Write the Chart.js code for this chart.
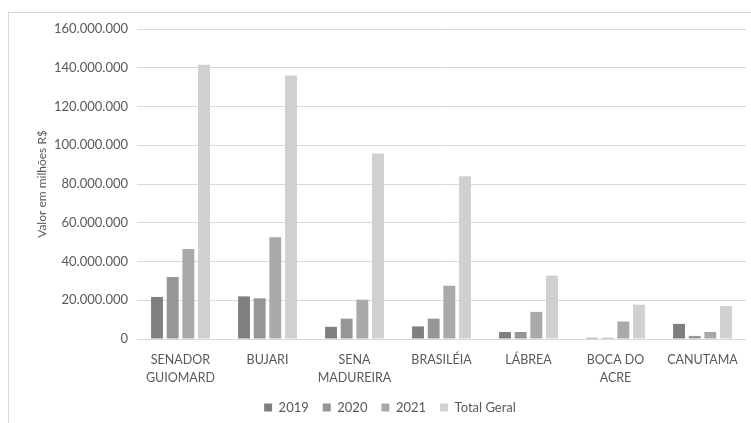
<!DOCTYPE html>
<html>
<head>
<meta charset="utf-8">
<script src="https://cdn.jsdelivr.net/npm/chart.js@4.4.1/dist/chart.umd.min.js"></script>
<style>
  html, body { margin: 0; padding: 0; background: #ffffff; }
  #wrap { position: relative; width: 751px; height: 423px; overflow: hidden; }
  #frame { position: absolute; left: 8px; top: 12px; width: 760px; height: 430px;
           border-left: 1px solid #d9d9d9; border-top: 1px solid #d9d9d9; box-sizing: border-box; }
  canvas { position: absolute; left: 0; top: 0; }
</style>
</head>
<body>
<div id="wrap">
  <div id="frame"></div>
  <canvas id="chart" width="751" height="423"></canvas>
</div>
<script>
// Municípios
const categories = [
  ["SENADOR", "GUIOMARD"],
  "BUJARI",
  ["SENA", "MADUREIRA"],
  "BRASILÉIA",
  "LÁBREA",
  ["BOCA DO", "ACRE"],
  "CANUTAMA"
];

// Valores anuais (R$)
const values2019 = [21700000, 22000000, 6300000, 6500000, 3600000, 600000, 7800000];
const values2020 = [32000000, 21000000, 10500000, 10500000, 3600000, 600000, 1600000];
const values2021 = [46500000, 52500000, 20300000, 27500000, 14000000, 9000000, 3600000];
const totalGeral = [141500000, 136000000, 95700000, 84000000, 32700000, 17700000, 17000000];

const seriesNames = ["2019", "2020", "2021", "Total Geral"];
const seriesColors = ["#7f7f7f", "#969696", "#a9a9a9", "#d0d0d0"];

const yMax = 160000000;
const yStep = 20000000;

const FONT = "Lato, 'Liberation Sans', Arial, sans-serif";
const TEXT = "#595959";

function formatBR(v) {
  return v.toString().replace(/\B(?=(\d{3})+(?!\d))/g, ".");
}

const seriesData = [values2019, values2020, values2021, totalGeral];

new Chart(document.getElementById("chart"), {
  type: "bar",
  data: {
    labels: categories,
    datasets: seriesData.map((d, i) => ({
      label: seriesNames[i],
      data: d,
      backgroundColor: seriesColors[i],
      borderWidth: 0,
      barPercentage: 0.76,
      categoryPercentage: 0.72
    }))
  },
  options: {
    responsive: false,
    animation: false,
    devicePixelRatio: 1,
    layout: { padding: { left: 34, right: 5, top: 29, bottom: -1 } },
    plugins: {
      tooltip: { enabled: false },
      legend: {
        position: "bottom",
        labels: {
          boxWidth: 8,
          boxHeight: 8,
          padding: 14,
          color: TEXT,
          font: { family: FONT, size: 13 }
        }
      }
    },
    scales: {
      x: {
        grid: { display: false },
        border: { display: false },
        ticks: {
          color: TEXT,
          font: { family: FONT, size: 12.5, lineHeight: 1.44 },
          padding: 4,
          maxRotation: 0,
          autoSkip: false
        },
        afterFit: (s) => { s.height = 48; }
      },
      y: {
        min: 0,
        max: yMax,
        grid: { color: "#d9d9d9", lineWidth: 1, drawTicks: false },
        border: { display: false },
        ticks: {
          stepSize: yStep,
          color: TEXT,
          padding: 9,
          font: { family: FONT, size: 13 },
          callback: (v) => formatBR(v)
        },
        title: {
          display: true,
          text: "Valor em milhões R$",
          color: TEXT,
          font: { family: FONT, size: 12 },
          padding: { top: 1, bottom: 0 }
        },
        afterFit: (s) => { s.width = 103; }
      }
    }
  }
});
</script>
</body>
</html>
